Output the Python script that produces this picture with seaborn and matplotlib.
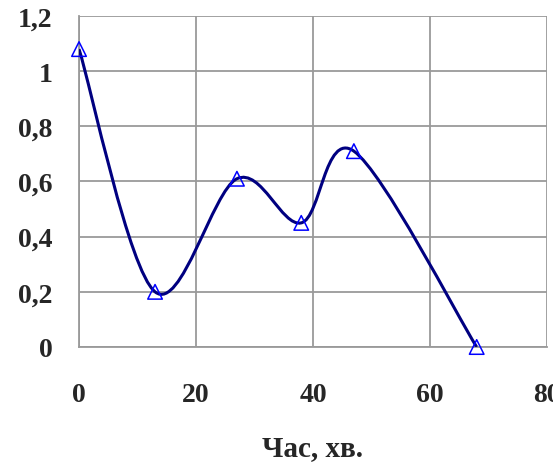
import numpy as np
import pandas as pd
import seaborn as sns
import matplotlib
matplotlib.use("Agg")
import matplotlib.pyplot as plt
from matplotlib.path import Path
from matplotlib.patches import PathPatch

# Measured series
time_min = [0, 13, 27, 38, 47, 68]
values = [1.08, 0.20, 0.61, 0.45, 0.71, 0.0]
x_ticks = [0, 20, 40, 60, 80]
y_ticks = [0, 0.2, 0.4, 0.6, 0.8, 1.0, 1.2]
y_tick_labels = ["0", "0,2", "0,4", "0,6", "0,8", "1", "1,2"]
x_label = "Час, хв."

sns.set_style("white")
plt.rcParams["font.family"] = ["Liberation Serif", "DejaVu Serif"]
plt.rcParams["font.weight"] = "bold"

df = pd.DataFrame({"t": time_min, "v": values})

fig = plt.figure(figsize=(5.53, 4.64), dpi=100)
ax = fig.add_axes([0.1429, 0.25, 0.846, 0.7134])

grid_col = "#9a9a9a"
ax.set_xlim(0, 80)
ax.set_ylim(0, 1.2)
ax.set_xticks(x_ticks)
ax.set_yticks(y_ticks)
ax.set_yticklabels(y_tick_labels)
ax.grid(True, color=grid_col, linewidth=1.3)
for side in ["top", "right"]:
    ax.spines[side].set_visible(False)
for side in ["left", "bottom"]:
    ax.spines[side].set_color(grid_col)
    ax.spines[side].set_linewidth(1.3)
ax.tick_params(axis="both", length=7, width=1.3, color=grid_col,
               labelsize=20, direction="out")
ax.tick_params(axis="x", pad=18)
ax.tick_params(axis="y", pad=12)
for lab in ax.get_xticklabels() + ax.get_yticklabels():
    lab.set_fontweight("bold")

# Smoothed line: cubic Bezier segments with Catmull-Rom style handles
pts = np.column_stack([time_min, values]).astype(float)
n = len(pts)
verts = [tuple(pts[0])]
codes = [Path.MOVETO]
for i in range(n - 1):
    p_prev = pts[i - 1] if i > 0 else pts[i]
    p0 = pts[i]
    p1 = pts[i + 1]
    p_next = pts[i + 2] if i + 2 < n else pts[i + 1]
    c1 = p0 + (p1 - p_prev) / 6.0
    c2 = p1 - (p_next - p0) / 6.0
    verts += [tuple(c1), tuple(c2), tuple(p1)]
    codes += [Path.CURVE4] * 3
ax.add_patch(PathPatch(Path(verts, codes), facecolor="none",
                       edgecolor="#000080", linewidth=2.2, zorder=3))

sns.scatterplot(data=df, x="t", y="v", marker="^", s=110,
                facecolor="none", edgecolor="#0000ff", linewidth=1.1,
                ax=ax, zorder=4, clip_on=False)

ax.set_xlabel(x_label, fontsize=21, fontweight="bold", labelpad=20)
ax.set_ylabel("")

fig.savefig("out.png", dpi=100)
